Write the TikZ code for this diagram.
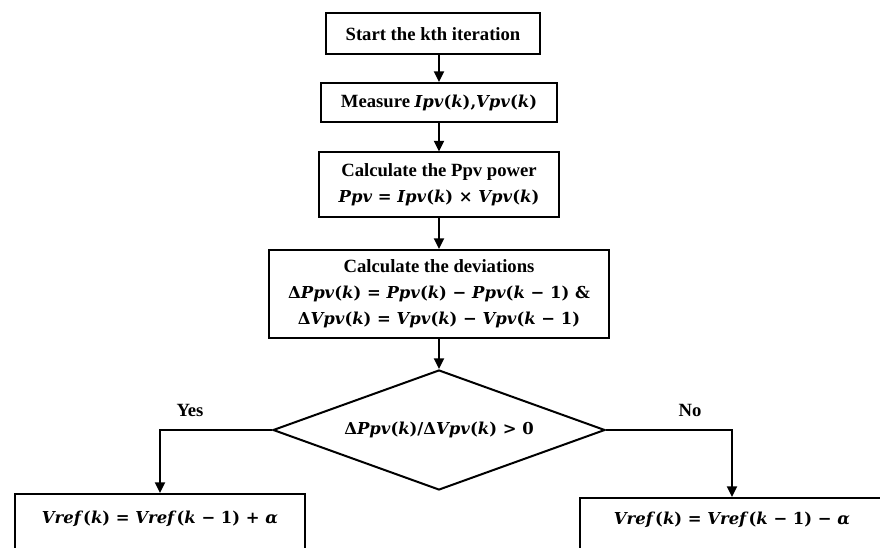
\documentclass[tikz,border=0pt]{standalone}
\usepackage{fontspec}
\setmainfont{Liberation Serif}
\newfontfamily\eqfont{DejaVu Serif}[Scale=0.88]
\usetikzlibrary{shapes.geometric,arrows.meta}
\newcommand{\vr}[1]{\textit{#1}}
\newcommand{\eq}[1]{{\eqfont #1}}
\begin{document}
\begin{tikzpicture}[x=0.75pt,y=-0.75pt,line width=1.5pt,
    txt/.style={font=\bfseries\fontsize{14}{19.5}\selectfont},
    box/.style={txt,draw,rectangle,align=center,inner sep=0pt},
    test/.style={txt,draw,diamond,aspect=2.77,inner sep=0pt,minimum width=249pt,minimum height=90pt},
    flow/.style={-{Triangle[length=8pt,width=7.5pt]}}]
    \clip (0,0) rectangle (880,548);
    \node[box,minimum width=161pt,minimum height=30.75pt] (start) at (433,34) {Start the kth iteration};
    \node[box,minimum width=177pt,minimum height=29.25pt] (measure) at (439,102.5) {Measure \eq{\vr{Ipv}(\vr{k}),\vr{Vpv}(\vr{k})}};
    \node[box,minimum width=180pt,minimum height=48.75pt] (power) at (439,185) {Calculate the Ppv power\\ \eq{\vr{Ppv} = \vr{Ipv}(\vr{k}) × \vr{Vpv}(\vr{k})}};
    \node[box,minimum width=255pt,minimum height=66pt] (dev) at (439,294) {Calculate the deviations\\ \eq{Δ\vr{Ppv}(\vr{k}) = \vr{Ppv}(\vr{k}) − \vr{Ppv}(\vr{k} − 1) \&}\\ \eq{Δ\vr{Vpv}(\vr{k}) = \vr{Vpv}(\vr{k}) − \vr{Vpv}(\vr{k} − 1)}};
    \node[test] (cond) at (439,430) {\eq{Δ\vr{Ppv}(\vr{k})/Δ\vr{Vpv}(\vr{k}) > 0}};
    \node[box,anchor=north,minimum width=217.5pt,text height=22pt,text depth=40pt] (up) at (160,493) {\eq{\vr{Vref}(\vr{k}) = \vr{Vref}(\vr{k} − 1) + \vr{α}}};
    \node[box,anchor=north,minimum width=228pt,text height=20pt,text depth=40pt] (down) at (732,497) {\eq{\vr{Vref}(\vr{k}) = \vr{Vref}(\vr{k} − 1) − \vr{α}}};
    \node[txt] (yes) at (190,410) {Yes};
    \node[txt] (no) at (690,410) {No};
    \draw[flow] (start.south -| measure) -- (measure);
    \draw[flow] (measure) -- (power);
    \draw[flow] (power) -- (dev);
    \draw[flow] (dev) -- (cond);
    \draw[flow] (cond.west) -| (up.north);
    \draw[flow] (cond.east) -| (down.north);
\end{tikzpicture}
\end{document}
